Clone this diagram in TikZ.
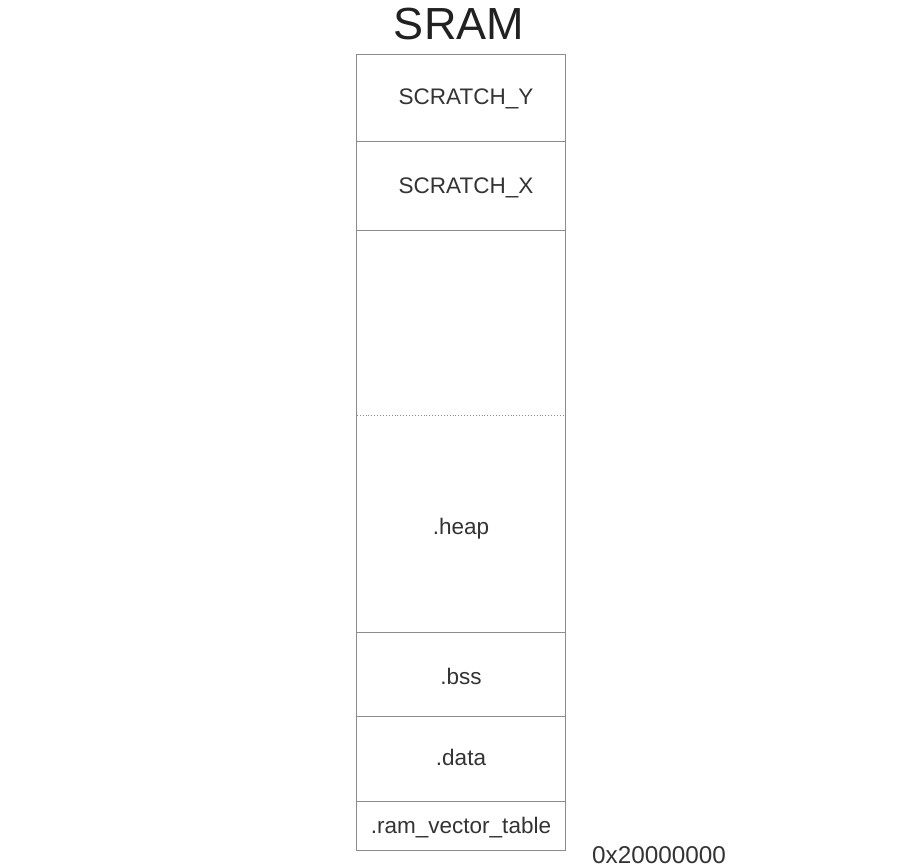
\documentclass[tikz,border=0pt]{standalone}
\usepackage{fontspec}
\setmainfont{Liberation Sans}
\newcommand{\lowered}[2]{\smash{\raisebox{-#1pt}{#2}}}
\begin{document}
\begin{tikzpicture}[x=1pt,y=-1pt,
  sect/.style={draw=none, minimum width=208pt, inner sep=0pt, text=black!80, font=\fontsize{22.5}{26}\selectfont},
  edge/.style={draw=black!45, line width=0.9pt},
  thin/.style={draw=black!45, line width=0.9pt, dotted}]
\useasboundingbox (0,0) rectangle (897,867);
\node[font=\fontsize{45}{50}\selectfont, text=black!87, anchor=base, inner sep=0pt] (title) at (459,40) {SRAM};
\node[sect, minimum height=86pt] (sy) at (461,98) {\lowered{6.5}{\hspace{10pt}SCRATCH\_Y}};
\node[sect, minimum height=89pt] (sx) at (461,185.5) {\lowered{7.5}{\hspace{10pt}SCRATCH\_X}};
\node[sect, minimum height=185pt] (free) at (461,322.5) {};
\node[sect, minimum height=217pt] (heap) at (461,523.5) {\lowered{10.5}{.heap}};
\node[sect, minimum height=84pt] (bss) at (461,674) {\lowered{10}{.bss}};
\node[sect, minimum height=85pt] (data) at (461,758.5) {\lowered{6.5}{.data}};
\node[sect, minimum height=49pt] (rvt) at (461,825.5) {\lowered{7.5}{.ram\_vector\_table}};
\node[font=\fontsize{24.3}{28}\selectfont, text=black!80, anchor=base west, inner sep=0pt] (addr) at (592,863) {0x20000000};
\draw[edge] (sy.north west) rectangle (rvt.south east);
\draw[edge] (sy.south west) -- (sy.south east);
\draw[edge] (sx.south west) -- (sx.south east);
\draw[thin] (free.south west) -- (free.south east);
\draw[edge] (heap.south west) -- (heap.south east);
\draw[edge] (bss.south west) -- (bss.south east);
\draw[edge] (data.south west) -- (data.south east);
\end{tikzpicture}
\end{document}
